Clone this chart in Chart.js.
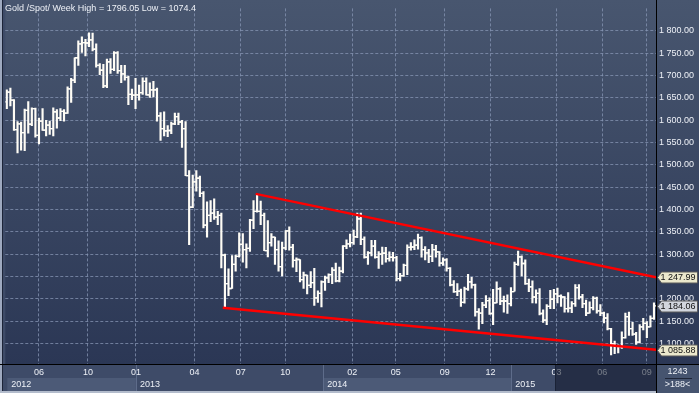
<!DOCTYPE html>
<html>
<head>
<meta charset="utf-8">
<title>Gold /Spot/ Week</title>
<script src="https://cdn.jsdelivr.net/npm/chart.js@4/dist/chart.umd.min.js"></script>
<style>
  html, body { margin: 0; padding: 0; background: #2c3856; }
  #wrap { width: 699px; height: 393px; position: relative; }
</style>
</head>
<body>
<div id="wrap"><canvas id="gold-chart"></canvas></div>
<script>
// weekly bars, index 0 = week ending 27 Apr 2012, last = 16 Oct 2015
const opens = [
  1641,1663,1645,1579,1592,1572,1622,1591,1626,1566,
  1598,1578,1589,1581,1619,1605,1620,1616,1670,1690,
  1740,1771,1774,1773,1780,1759,1723,1712,1677,1731,
  1714,1751,1711,1704,1696,1658,1656,1657,1662,1687,
  1657,1668,1668,1610,1581,1576,1577,1592,1608,1596,
  1581,1476,1405,1462,1470,1436,1365,1387,1392,1383,
  1387,1298,1234,1223,1277,1295,1322,1310,1313,1376,
  1396,1396,1387,1308,1326,1338,1310,1272,1314,1352,
  1315,1286,1288,1243,1253,1230,1236,1202,1212,1238,
  1247,1254,1264,1240,1262,1318,1323,1326,1339,1379,
  1333,1293,1303,1318,1293,1300,1302,1290,1293,1292,
  1245,1252,1275,1315,1316,1320,1337,1310,1303,1295,
  1310,1305,1280,1287,1268,1231,1216,1217,1192,1222,
  1238,1231,1171,1168,1186,1196,1167,1191,1222,1195,
  1195,1189,1216,1277,1294,1279,1234,1227,1204,1212,
  1167,1152,1183,1199,1211,1206,1204,1178,1179,1189,
  1225,1204,1189,1168,1180,1201,1173,1168,1157,1133,
  1099,1095,1093,1113,1160,1133,1121,1103,1137,1145,
  1137,1156
];
const highs = [
  1668,1672,1646,1597,1596,1625,1642,1628,1627,1605,
  1626,1600,1598,1628,1624,1626,1624,1675,1694,1740,
  1778,1787,1781,1796.05,1795,1771,1727,1725,1737,1738,
  1754,1754,1723,1723,1699,1670,1694,1679,1695,1695,
  1684,1687,1672,1617,1619,1588,1596,1616,1616,1600,
  1597,1487,1477,1487,1475,1440,1417,1420,1424,1396,
  1392,1300,1267,1297,1298,1348,1346,1323,1378,1420,
  1434,1419,1392,1375,1346,1338,1330,1327,1353,1361,
  1322,1292,1288,1260,1253,1261,1268,1218,1240,1251,
  1256,1270,1280,1271,1319,1332,1345,1354,1392,1392,
  1339,1306,1331,1331,1306,1316,1315,1305,1304,1295,
  1257,1278,1321,1326,1332,1345,1339,1317,1311,1322,
  1320,1306,1292,1290,1270,1241,1234,1222,1226,1255,
  1248,1233,1178,1192,1207,1202,1221,1238,1225,1206,
  1209,1225,1282,1307,1296,1287,1244,1240,1220,1223,
  1175,1187,1219,1221,1224,1209,1205,1214,1194,1232,
  1232,1210,1197,1193,1205,1204,1187,1170,1167,1134,
  1105,1097,1126,1168,1170,1147,1125,1142,1156,1149,
  1162,1191
];
const lows = [
  1626,1632,1577,1527,1533,1532,1571,1588,1562,1547,
  1577,1565,1568,1565,1582,1599,1598,1615,1640,1684,
  1723,1752,1744,1765,1755,1719,1702,1673,1673,1705,
  1711,1705,1684,1690,1635,1646,1626,1645,1658,1656,
  1651,1652,1598,1555,1565,1563,1570,1590,1590,1539,
  1476,1321,1404,1441,1429,1359,1338,1373,1378,1366,
  1269,1180,1207,1223,1262,1293,1282,1269,1306,1357,
  1394,1366,1308,1294,1318,1277,1262,1251,1310,1309,
  1271,1261,1238,1223,1211,1225,1185,1192,1182,1219,
  1236,1234,1238,1238,1258,1312,1316,1322,1337,1321,
  1291,1277,1296,1291,1268,1277,1282,1284,1284,1240,
  1240,1250,1254,1309,1310,1311,1293,1287,1281,1283,
  1293,1273,1275,1262,1229,1214,1207,1183,1190,1219,
  1224,1161,1132,1144,1180,1165,1142,1191,1187,1170,
  1167,1184,1217,1275,1251,1232,1216,1191,1190,1164,
  1147,1142,1178,1178,1191,1183,1170,1170,1169,1183,
  1199,1180,1162,1168,1175,1168,1162,1146,1130,1074.4,
  1077,1079,1089,1112,1118,1118,1098,1101,1130,1113,
  1137,1154
];
const closes = [
  1663,1645,1579,1592,1572,1622,1591,1626,1566,1598,
  1578,1589,1581,1619,1605,1620,1616,1670,1690,1740,
  1771,1774,1773,1780,1759,1723,1712,1677,1731,1714,
  1751,1711,1704,1696,1658,1656,1657,1662,1687,1657,
  1668,1668,1610,1581,1576,1577,1592,1608,1596,1581,
  1476,1405,1462,1470,1436,1365,1387,1392,1383,1387,
  1298,1234,1223,1277,1295,1322,1310,1313,1376,1396,
  1396,1387,1308,1326,1338,1310,1272,1314,1352,1315,
  1286,1288,1243,1253,1230,1236,1202,1212,1238,1247,
  1254,1264,1240,1262,1318,1323,1326,1339,1379,1333,
  1293,1303,1318,1293,1300,1302,1290,1293,1292,1245,
  1252,1275,1315,1316,1320,1337,1310,1303,1295,1310,
  1305,1280,1287,1268,1231,1216,1217,1192,1222,1238,
  1231,1171,1168,1186,1196,1167,1191,1222,1195,1195,
  1189,1216,1277,1294,1279,1234,1227,1204,1212,1167,
  1152,1183,1199,1211,1206,1204,1178,1179,1189,1225,
  1204,1189,1168,1180,1201,1173,1168,1157,1133,1099,
  1095,1093,1113,1160,1133,1121,1103,1137,1145,1137,
  1156,1184.06
];

// axis ticks (x in week index units)
const priceTicks = [1100,1150,1200,1250,1300,1350,1400,1450,1500,1550,1600,1650,1700,1750,1800];
const monthTicks = [9, 22.7, 36.1, 52.5, 65.4, 77.9, 96.6, 108.8, 122.5, 135.3, 153.7, 166.5, 179];
const monthLabels = ['06','10','01','04','07','10','02','05','09','12','03','06','09'];
const yearStarts = [-0.42, 36.1, 88.5, 141.1];
const yearLabels = ['2012','2013','2014','2015'];

// trend lines [week index, price]
const upperTrend = [[69.6, 1435], [181.56, 1247.99]];
const lowerTrend = [[60.4, 1180], [181.56, 1085.88]];

const X_MIN = -0.42, X_MAX = 181.56;
const FONT = '"Liberation Sans", Arial, sans-serif';
const TXT = '#eef1f7';
const BAR = '#fffdf6';

function fmt(v) {
    const parts = v.toFixed(2).split('.');
    return parts[0].replace(/\B(?=(\d{3})+(?!\d))/g, ' ') + '.' + parts[1];
}

const panelsPlugin = {
    id: 'panels',
    beforeDraw(chart) {
        const { ctx, chartArea: a, width, height } = chart;
        const xs = chart.scales.x;
        ctx.save();
        ctx.fillStyle = '#3e4b68';
        ctx.fillRect(0, 0, width, height);
        const g = ctx.createLinearGradient(0, 0, 0, a.bottom);
        g.addColorStop(0, '#48566f');
        g.addColorStop(1, '#2b3755');
        ctx.fillStyle = g;
        ctx.fillRect(a.left, 0, width - a.left, a.bottom);

        // year row bands
        const rowTop = a.bottom + 14, rowBot = a.bottom + 27;
        yearStarts.forEach((s, k) => {
            const x0 = Math.max(a.left + 2, xs.getPixelForValue(s));
            const x1 = k + 1 < yearStarts.length ? xs.getPixelForValue(yearStarts[k + 1]) : a.right;
            if (k % 2 === 0) {
                ctx.fillStyle = '#4c5a77';
                ctx.fillRect(x0, rowTop, x1 - x0, rowBot - rowTop);
            }
            if (k > 0) {
                ctx.fillStyle = '#5e6c8a';
                ctx.fillRect(Math.round(x0), a.bottom, 1, rowBot - a.bottom);
            }
        });

        // right bottom box
        ctx.fillStyle = '#46546f';
        ctx.fillRect(a.right, a.bottom, width - a.right, height - a.bottom);

        // frame strips
        ctx.fillStyle = '#9ea9bf';
        ctx.fillRect(0, 0, 2, height);
        ctx.fillStyle = '#1c2438';
        ctx.fillRect(2, 0, 1, height);
        ctx.fillStyle = '#b3bccc';
        ctx.fillRect(0, rowBot, a.right, height - rowBot);
        ctx.restore();
    },
    afterDraw(chart) {
        const { ctx, chartArea: a, width, height } = chart;
        const xs = chart.scales.x, ys = chart.scales.y;
        ctx.save();

        // scroll viewport overlay in the time panel
        const vx = Math.round(xs.getPixelForValue(monthTicks[10])) - 1;
        ctx.fillStyle = 'rgba(16,24,42,0.55)';
        ctx.fillRect(vx, a.bottom + 1, a.right - vx, 26);
        ctx.fillStyle = '#1a2236';
        ctx.fillRect(vx, a.bottom + 1, 1, 26);

        // separators
        ctx.fillStyle = '#000';
        ctx.fillRect(0, a.bottom, width, 1);
        ctx.fillRect(a.right, 0, 1, height);

        // title
        ctx.font = '9px ' + FONT;
        ctx.fillStyle = TXT;
        ctx.textBaseline = 'middle';
        ctx.textAlign = 'left';
        const hi = Math.max(...highs), lo = Math.min(...lows);
        ctx.fillText('Gold /Spot/ Week High = ' + hi + ' Low = ' + lo, 5, 8.5);

        // year labels
        yearStarts.forEach((s, k) => {
            const x0 = Math.max(a.left + 2, xs.getPixelForValue(s));
            ctx.fillText(yearLabels[k], x0 + 4, a.bottom + 21);
        });

        // price callouts
        const callout = (v, fill) => {
            const y = Math.round(ys.getPixelForValue(v)) + 0.5;
            const x = a.right + 1.5;
            const r = width - 1.5;
            ctx.beginPath();
            ctx.moveTo(x, y);
            ctx.lineTo(x + 4, y - 5.5);
            ctx.lineTo(r, y - 5.5);
            ctx.lineTo(r, y + 5.5);
            ctx.lineTo(x + 4, y + 5.5);
            ctx.closePath();
            ctx.fillStyle = fill;
            ctx.fill();
            ctx.strokeStyle = '#5a5a5a';
            ctx.lineWidth = 1;
            ctx.stroke();
            ctx.fillStyle = '#111';
            ctx.textAlign = 'left';
            ctx.fillText(fmt(v), x + 3, y);
        };
        callout(upperTrend[1][1], '#ebe8cc');
        callout(closes[closes.length - 1], '#d2d6de');
        callout(lowerTrend[1][1], '#ebe8cc');

        // bar counter box
        ctx.fillStyle = TXT;
        ctx.textAlign = 'center';
        const cx = (a.right + width) / 2;
        ctx.fillText('1243', cx, a.bottom + 8);
        ctx.fillText('>188<', cx, a.bottom + 21);
        ctx.fillStyle = '#1f2638';
        ctx.fillRect(a.right + 9, a.bottom + 14, 27, 1);
        ctx.restore();
    }
};

const gridColor = 'rgba(135,150,180,0.75)';

const ctx = document.getElementById('gold-chart').getContext('2d');
const goldChart = new Chart(ctx, {
    type: 'scatter',
    data: {
        datasets: [
            {
                type: 'line',
                data: upperTrend.map(p => ({ x: p[0], y: p[1] })),
                borderColor: '#ff0000',
                borderWidth: 2.5,
                pointRadius: 0,
                showLine: true,
                order: 0
            },
            {
                type: 'line',
                data: lowerTrend.map(p => ({ x: p[0], y: p[1] })),
                borderColor: '#ff0000',
                borderWidth: 2.5,
                pointRadius: 0,
                showLine: true,
                order: 0
            },
            {
                type: 'bar',
                data: lows.map((l, i) => ({ x: i, y: [l, highs[i]] })),
                backgroundColor: BAR,
                barThickness: 1.5,
                order: 2
            },
            {
                type: 'scatter',
                data: opens.map((o, i) => ({ x: i - 0.38, y: o })),
                pointStyle: 'line',
                pointRadius: 1.4,
                pointBorderWidth: 1.3,
                pointBorderColor: BAR,
                order: 1
            },
            {
                type: 'scatter',
                data: closes.map((c, i) => ({ x: i + 0.38, y: c })),
                pointStyle: 'line',
                pointRadius: 1.4,
                pointBorderWidth: 1.3,
                pointBorderColor: BAR,
                order: 1
            }
        ]
    },
    options: {
        responsive: true,
        maintainAspectRatio: false,
        animation: false,
        events: [],
        layout: { padding: { left: 3, top: 1, right: 0, bottom: 2 } },
        plugins: {
            legend: { display: false },
            tooltip: { enabled: false },
            title: { display: false }
        },
        scales: {
            x: {
                type: 'linear',
                min: X_MIN,
                max: X_MAX,
                offset: false,
                afterBuildTicks: s => { s.ticks = monthTicks.map(v => ({ value: v })); },
                afterFit: s => { s.height = 27; },
                ticks: {
                    autoSkip: false,
                    maxRotation: 0,
                    padding: 3,
                    color: TXT,
                    font: { family: FONT, size: 9 },
                    callback: (v, i) => monthLabels[i]
                },
                grid: { color: gridColor, drawTicks: false, offset: false },
                border: { display: true, color: '#000', dash: [3, 2] }
            },
            y: {
                position: 'right',
                min: 1053.9,
                max: 1850.5,
                afterBuildTicks: s => { s.ticks = priceTicks.map(v => ({ value: v })); },
                afterFit: s => { s.width = 43; },
                ticks: {
                    padding: 3,
                    color: TXT,
                    font: { family: FONT, size: 9 },
                    callback: v => fmt(v)
                },
                grid: { color: gridColor, drawTicks: false },
                border: { display: true, color: '#000', dash: [3, 2] }
            }
        }
    },
    plugins: [ panelsPlugin ]
});
</script>
</body>
</html>
